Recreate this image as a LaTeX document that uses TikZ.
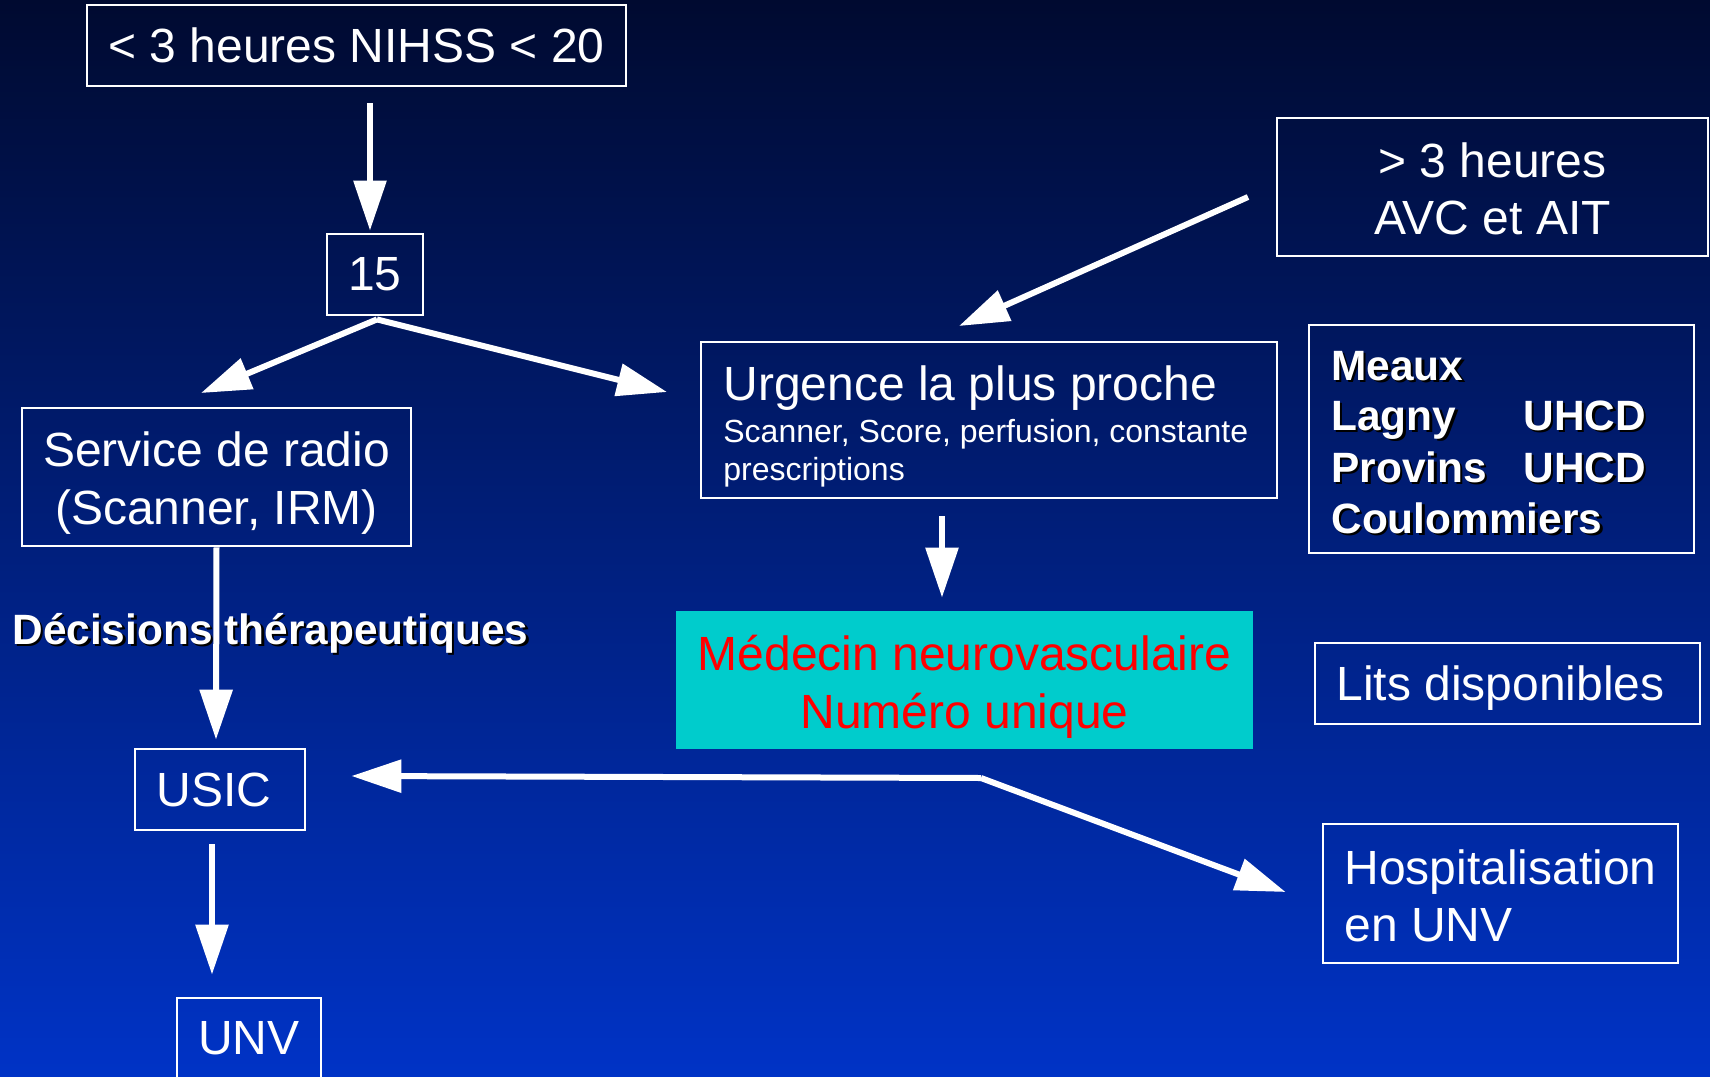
\documentclass[tikz,border=0pt]{standalone}
\usepackage{fontspec}
\setmainfont{Liberation Sans}
\usetikzlibrary{arrows.meta,calc}
\definecolor{bgtop}{RGB}{0,10,48}
\definecolor{bgmid}{RGB}{0,42,150}
\definecolor{bgbot}{RGB}{0,51,198}
\definecolor{cyanbox}{RGB}{0,204,204}
\begin{document}
\begin{tikzpicture}[x=0.5pt,y=-0.5pt,
  box/.style 2 args={draw=white, line width=1.4pt, text=white, inner sep=0pt,
    minimum width=#1*0.5pt, minimum height=#2*0.5pt,
    font=\fontsize{24}{29}\selectfont},
  big/.style={font=\fontsize{24}{29}\selectfont},
  small/.style={font=\fontsize{16}{19}\selectfont},
  boldtxt/.style={font=\bfseries\fontsize{21.2}{25}\selectfont},
  conn/.style={draw=white, line width=3pt, -{Triangle[length=25pt,width=16pt]}},
  plain/.style={draw=white, line width=3pt}
]
\shade[top color=bgtop, middle color=bgmid, bottom color=bgbot] (0,0) rectangle (1710,1077);
\useasboundingbox (0,0) rectangle (1710,1077);

% boxes
\node[box={539}{81}] (top) at (356.5,45.5) {< 3 heures NIHSS < 20};
\node[box={96}{81}] (n15) at (375,274.5) {15};
\node[box={389}{138}] (radio) at (216.5,477) {};
\node[box={576}{156}] (urg) at (989,420) {};
\node[box={431}{138}] (avc) at (1492.5,187) {};
\node[box={385}{228}] (meaux) at (1501.5,439) {};
\node[fill=cyanbox, inner sep=0pt, minimum width=577*0.5pt, minimum height=138*0.5pt] (med) at (964.5,680) {};
\node[box={385}{81}] (lits) at (1507.5,683.5) {};
\node[box={355}{139}] (hosp) at (1500.5,893.5) {};
\node[box={170}{81}] (usic) at (220,789.5) {};
\node[box={144}{81}] (unv) at (249,1038.5) {UNV};

% texts inside boxes
\node[text=white, big, inner sep=0pt] (usict) at (214,789.5) {USIC};
\node[anchor=base, text=white, big, inner sep=0pt] (rad1) at (216.5,466) {Service de radio};
\node[anchor=base, text=white, big, inner sep=0pt] (rad2) at (216.5,524) {(Scanner, IRM)};
\node[anchor=base, text=white, big, inner sep=0pt] (avc1) at (1492.5,177) {> 3 heures};
\node[anchor=base, text=white, big, inner sep=0pt] (avc2) at (1492.5,234) {AVC et AIT};
\node[anchor=base, text=red, big, inner sep=0pt] (med1) at (964.5,670) {Médecin neurovasculaire};
\node[anchor=base, text=red, big, inner sep=0pt] (med2) at (964.5,728) {Numéro unique};
\node[anchor=base west, text=white, big, inner sep=0pt] (urgt) at (723,400) {Urgence la plus proche};
\node[anchor=base west, text=white, small, inner sep=0pt] (urgs1) at (723,442) {Scanner, Score, perfusion, constante};
\node[anchor=base west, text=white, small, inner sep=0pt] (urgs2) at (723,480) {prescriptions};
\node[anchor=base west, text=white, big, inner sep=0pt] (litst) at (1336,700) {Lits disponibles};
\node[anchor=base west, text=white, big, inner sep=0pt] (hosp1) at (1344,884) {Hospitalisation};
\node[anchor=base west, text=white, big, inner sep=0pt] (hosp2) at (1344,941) {en UNV};

% bold shadowed texts
\foreach \nm/\t/\xx/\yy in {m1/Meaux/1331/380, m2/Lagny/1331/430, m3/Provins/1331/482, m4/Coulommiers/1331/533, u1/UHCD/1523/430, u2/UHCD/1523/482}{
  \node[anchor=base west, text=black, boldtxt, inner sep=0pt] (\nm s) at (\xx+2.5,\yy+2.5) {\t};
  \node[anchor=base west, text=white, boldtxt, inner sep=0pt] (\nm) at (\xx,\yy) {\t};
}

% connectors
\coordinate (fork) at ($(n15.south)+(2,3)$);
\coordinate (j) at (981,778);
\draw[conn] ($(top.south)+(13.5,16)$) -- ($(n15.north)+(-5,-2)$);
\draw[conn] (fork) -- (201,393) coordinate (radtip);
\draw[conn] (fork) -- (667,392) coordinate (urgtip);
\draw[conn] (1248,197) coordinate (avcst) -- (959,326) coordinate (avctip);
\draw[conn] ($(urg.south)+(-47,17)$) -- ($(med.north)+(-22.5,-13)$);
\draw[conn] (radio.south) -- ($(usic.north)+(-4,-8)$);
\draw[conn] ($(usic.south)+(-8,13)$) -- ($(unv.north)+(-37,-22)$);
\draw[conn] (j) -- ($(usic.east)+(45,-13.5)$);
\draw[conn] (j) -- ($(hosp.west)+(-36,-1.5)$);

% Décisions label over the line
\node[anchor=base west, text=black, boldtxt, inner sep=0pt] (decs) at (14.5,646.5) {Décisions thérapeutiques};
\node[anchor=base west, text=white, boldtxt, inner sep=0pt] (dec) at (12,644) {Décisions thérapeutiques};
\end{tikzpicture}
\end{document}
